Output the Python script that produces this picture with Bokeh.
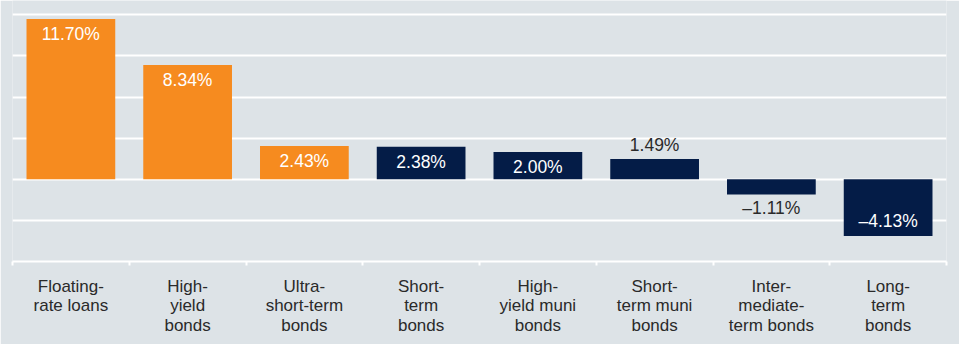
from bokeh.plotting import figure
from bokeh.models import ColumnDataSource, Range1d, FixedTicker, LabelSet
from bokeh.core.properties import value
from bokeh.embed import file_html
from bokeh.resources import INLINE

# ---- data ----
categories = [
    "Floating-\nrate loans",
    "High-\nyield\nbonds",
    "Ultra-\nshort-term\nbonds",
    "Short-\nterm\nbonds",
    "High-\nyield muni\nbonds",
    "Short-\nterm muni\nbonds",
    "Inter-\nmediate-\nterm bonds",
    "Long-\nterm\nbonds",
]
returns = [11.70, 8.34, 2.43, 2.38, 2.00, 1.49, -1.11, -4.13]
highlighted = [True, True, True, False, False, False, False, False]
grid_ticks = [-3, 0, 3, 6, 9, 12]

# ---- styling ----
BG = "#DDE3E7"
ORANGE = "#F68B1F"
NAVY = "#041C47"
DARK = "#2A2A2A"
FONT = "Liberation Sans"

n = len(categories)
xs = list(range(n))
colors = [ORANGE if h else NAVY for h in highlighted]
labels = [f"{v:.2f}%".replace("-", "\u2013") for v in returns]
inside = [abs(v) >= 2 for v in returns]
text_colors = ["white" if i else DARK for i in inside]
offsets = []
for v, i in zip(returns, inside):
    if v >= 0:
        offsets.append(-15 if i else 13.5)
    else:
        offsets.append(14.5 if i else -13.5)

src = ColumnDataSource(dict(x=xs, value=returns, color=colors, label=labels,
                            tcolor=text_colors, yoff=offsets))

p = figure(width=959, height=344, output_backend="svg", toolbar_location=None,
           x_range=Range1d(-0.5, n - 0.5), y_range=Range1d(-6, 13.05),
           min_border_left=12, min_border_right=13, min_border_top=0,
           min_border_bottom=83)
p.background_fill_color = BG
p.border_fill_color = BG
p.outline_line_color = None

p.vbar(x="x", top="value", bottom=0, width=0.76, fill_color="color",
       line_color=None, source=src)

p.add_layout(LabelSet(x="x", y="value", text="label", source=src,
                      text_align="center", text_baseline="middle",
                      y_offset="yoff", text_color="tcolor",
                      text_font=value(FONT), text_font_size=value("17.5px")))

p.yaxis.visible = False
p.xgrid.visible = False
p.ygrid.ticker = FixedTicker(ticks=grid_ticks)
p.ygrid.grid_line_color = "white"
p.ygrid.grid_line_width = 2
p.ygrid.level = "underlay"

xa = p.xaxis[0]
xa.ticker = FixedTicker(ticks=xs, minor_ticks=[i - 0.5 for i in range(n + 1)])
xa.major_label_overrides = {i: c for i, c in zip(xs, categories)}
xa.major_tick_line_color = None
xa.major_tick_out = 0
xa.major_tick_in = 0
xa.minor_tick_line_color = "white"
xa.minor_tick_line_width = 2
xa.minor_tick_out = 4
xa.minor_tick_in = 0
xa.axis_line_color = "white"
xa.axis_line_width = 2
xa.major_label_standoff = 11
xa.major_label_text_font = FONT
xa.major_label_text_font_size = "17px"
xa.major_label_text_color = DARK
xa.major_label_text_line_height = 1.05
xa.major_label_text_align = "center"

open("out.html", "w").write(file_html(p, INLINE))
